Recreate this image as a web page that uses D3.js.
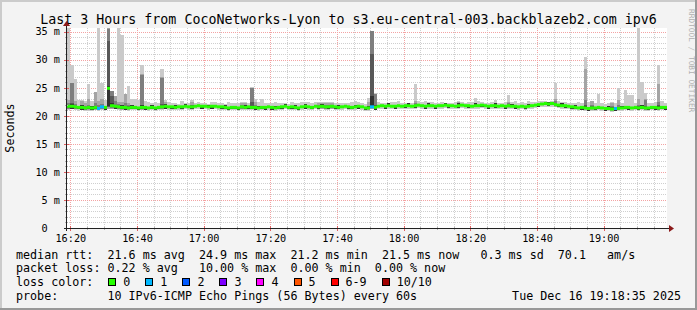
<!DOCTYPE html>
<html><head><meta charset="utf-8">
<script src="https://cdn.jsdelivr.net/npm/d3@7"></script>
<style>
body{margin:0;background:#f3f3f3;}
svg text{font-family:"DejaVu Sans Mono",monospace;white-space:pre;}
</style>
</head><body>
<svg id="c" width="697" height="310"></svg>
<script>
// ---------------- data ----------------
const title = "Last 3 Hours from CocoNetworks-Lyon to s3.eu-central-003.backblazeb2.com ipv6";
const timeStart = "2025-12-16T16:19:00";
const timeEnd = "2025-12-16T19:19:00";
const stepMinutes = 1;
const yMax = 35.65;
const yTicks = [0, 5, 10, 15, 20, 25, 30, 35];
const yTickLabels = ["0", "5 m", "10 m", "15 m", "20 m", "25 m", "30 m", "35 m"];
const xTickLabels = ["16:20", "16:40", "17:00", "17:20", "17:40", "18:00", "18:20", "18:40", "19:00"];
const yAxisTitle = "Seconds";
const watermark = "RRDTOOL / TOBI OETIKER";

// median rtt per minute (ms)
const median = [
21.7,21.7,21.6,21.5,21.5,21.4,21.5,21.4,21.5,21.3,
21.6,21.5,24.9,21.8,21.7,21.6,21.5,21.5,21.4,21.5,
21.5,21.4,21.5,21.5,21.4,21.5,21.4,21.5,21.6,21.7,
21.6,21.6,21.5,21.6,21.6,21.7,21.6,21.6,21.7,21.8,
21.7,21.7,21.6,21.7,21.7,21.6,21.6,21.5,21.4,21.5,
21.5,21.4,21.6,21.5,21.6,21.5,21.5,21.4,21.5,21.5,
21.6,21.5,21.4,21.5,21.6,21.7,21.5,21.6,21.5,21.4,
21.6,21.7,21.6,21.5,21.7,21.6,21.7,21.6,21.6,21.7,
21.6,21.5,21.6,21.7,21.6,21.5,21.6,21.7,21.6,21.4,
21.4,21.6,21.5,21.7,21.8,21.7,21.8,21.7,21.7,21.8,
21.7,21.8,21.8,21.7,21.8,21.9,21.8,21.7,21.8,21.8,
21.7,21.8,21.8,21.9,21.8,21.8,21.7,21.8,21.9,21.8,
21.8,21.7,21.8,21.8,21.9,21.8,21.7,21.8,21.8,21.7,
21.8,21.7,21.8,21.7,21.7,21.6,21.7,21.6,21.7,21.8,
21.9,22.0,22.1,22.2,22.1,22.2,22.0,21.9,21.8,21.8,
21.7,21.6,21.5,21.4,21.5,21.4,21.3,21.4,21.4,21.5,
21.4,21.3,21.3,21.2,21.3,21.3,21.4,21.5,21.5,21.4,
21.5,21.4,21.5,21.4,21.4,21.5,21.5,21.4,21.5,21.5];

// lost pings (of 10) per minute
const loss = [
0,0,0,0,0,0,0,0,0,1, 1,0,0,0,0,0,0,0,0,0,
0,0,0,0,0,0,0,0,0,0, 0,0,0,0,0,0,0,0,0,0,
0,0,0,0,0,0,0,0,0,0, 0,0,0,0,0,0,0,0,0,0,
0,0,0,0,0,0,0,0,0,0, 0,0,0,0,0,0,0,0,0,0,
0,0,0,0,0,0,0,0,0,0, 0,1,0,0,0,0,0,0,0,0,
0,0,0,0,0,0,0,0,0,0, 0,0,0,0,0,0,0,0,0,0,
0,0,0,0,0,0,0,0,0,0, 0,0,0,0,0,0,0,0,0,0,
0,0,0,0,0,0,0,0,0,0, 0,0,0,0,0,0,0,0,0,0,
0,0,0,0,1,0,0,0,0,0, 0,0,0,0,0,0,0,0,0,0];

// lowest ping (ms)
const pingMin = [
21.1,21.2,21.0,20.9,21.0,20.9,20.9,20.9,21.0,20.9,
21.1,21.0,21.2,21.2,21.2,21.1,21.0,21.0,20.9,21.0,
21.0,20.9,21.0,21.0,20.9,21.0,20.9,21.0,21.1,21.2,
21.1,21.1,21.0,21.1,21.1,21.2,21.1,21.1,21.2,21.3,
21.2,21.2,21.1,21.2,21.2,21.1,21.1,21.0,20.9,21.0,
21.0,20.9,21.1,21.0,21.1,21.0,21.0,20.9,21.0,21.0,
21.1,21.0,20.9,21.0,21.1,21.2,21.0,21.1,21.0,20.9,
21.1,21.2,21.1,21.0,21.2,21.1,21.2,21.1,21.1,21.2,
21.1,21.0,21.1,21.2,21.1,21.0,21.1,21.2,21.1,20.9,
20.9,21.2,21.0,21.2,21.3,21.2,21.3,21.2,21.2,21.3,
21.2,21.3,21.3,21.2,21.3,21.4,21.3,21.2,21.3,21.3,
21.2,21.3,21.3,21.4,21.3,21.3,21.2,21.3,21.4,21.3,
21.3,21.2,21.3,21.3,21.4,21.3,21.2,21.3,21.3,21.2,
21.3,21.2,21.3,21.2,21.2,21.1,21.2,21.1,21.2,21.3,
21.4,21.5,21.6,21.6,21.6,21.6,21.5,21.4,21.3,21.3,
21.2,21.1,21.0,20.9,21.0,20.9,20.8,20.9,20.9,21.0,
20.9,20.8,20.9,20.7,20.8,20.8,20.9,21.0,21.0,20.9,
21.0,20.9,21.0,20.9,20.9,21.0,21.0,20.9,21.0,21.0];

// highest ping (ms)
const pingMax = [
36.5,29.1,26.6,22.9,22.9,22.6,25.6,22.6,24.2,36.5,
25.9,22.8,36.5,24.4,23.5,36.5,34.4,23.8,25.3,23.0,
23.0,22.9,29.0,22.6,22.4,22.3,22.5,22.3,28.3,22.9,
22.5,22.2,22.3,22.1,22.6,22.3,22.2,22.9,22.3,22.4,
22.2,22.3,22.1,22.5,22.4,22.2,22.3,22.1,22.4,22.2,
22.2,22.3,22.4,22.5,22.3,25.1,23.0,22.4,23.0,22.3,
22.2,22.3,22.5,22.2,22.2,22.3,22.1,22.4,22.2,22.2,
22.4,22.4,22.5,22.2,22.4,22.5,22.4,22.4,22.4,22.5,
22.2,22.2,22.3,22.2,22.3,22.5,22.6,22.4,22.2,22.1,
23.2,35.1,24.0,22.4,22.3,22.2,22.3,22.4,22.5,22.6,
22.3,22.2,22.3,22.2,25.7,22.6,22.4,22.6,22.5,22.4,
22.3,22.2,22.4,22.3,22.2,22.3,22.5,22.6,22.5,22.3,
22.4,22.5,23.1,22.6,22.4,22.3,22.2,22.4,22.9,22.3,
22.3,22.4,23.7,22.4,22.6,22.3,22.4,22.3,22.7,22.4,
22.4,22.7,22.7,22.6,22.5,22.6,25.9,22.6,22.5,22.4,
22.3,22.2,22.3,22.4,22.2,30.4,22.5,22.6,22.2,23.9,
22.2,22.1,22.2,22.4,22.3,25.0,22.2,24.6,23.7,23.7,
22.3,36.5,26.0,24.0,22.3,22.2,22.4,29.1,22.6,22.3];

// two middle pings (darkest smoke), low and high
const coreLo = [
21.5,21.3,21.4,21.3,21.1,21.2,21.3,21.0,21.3,21.1,
21.4,21.1,21.7,21.6,21.3,21.4,21.3,21.1,21.2,21.3,
21.3,21.0,21.3,21.1,21.2,21.3,21.0,21.3,21.4,21.3,
21.4,21.2,21.3,21.4,21.2,21.5,21.4,21.2,21.5,21.6,
21.3,21.5,21.4,21.3,21.5,21.4,21.2,21.3,21.0,21.3,
21.3,21.0,21.4,21.3,21.2,21.3,21.1,21.2,21.3,21.1,
21.4,21.1,21.2,21.3,21.2,21.5,21.3,21.2,21.3,21.0,
21.4,21.3,21.4,21.3,21.5,21.2,21.5,21.4,21.2,21.5,
21.2,21.3,21.4,21.5,21.2,21.3,21.4,21.3,21.4,21.0,
21.2,21.4,21.1,21.5,21.6,21.3,21.6,21.5,21.3,21.6,
21.5,21.4,21.6,21.5,21.4,21.7,21.6,21.3,21.6,21.6,
21.3,21.6,21.6,21.7,21.4,21.6,21.5,21.4,21.7,21.6,
21.4,21.5,21.6,21.6,21.5,21.6,21.3,21.6,21.4,21.5,
21.6,21.3,21.6,21.5,21.3,21.4,21.5,21.2,21.5,21.6,
21.7,21.6,21.9,22.0,21.7,22.0,21.8,21.5,21.6,21.4,
21.5,21.2,21.3,21.2,21.1,21.2,20.9,21.2,21.0,21.3,
21.2,20.9,21.1,21.0,20.9,21.1,21.2,21.3,21.1,21.2,
21.3,21.0,21.3,21.2,21.0,21.3,21.1,21.2,21.3,21.1];
const coreHi = [
21.8,22.1,21.7,21.6,21.9,21.5,21.6,21.8,21.6,21.4,
21.7,21.6,25.3,22.2,21.8,21.7,21.9,21.6,21.5,21.9,
21.6,21.5,21.9,21.6,21.5,21.9,21.5,21.6,21.7,22.1,
21.7,21.7,21.9,21.7,21.7,22.1,21.7,21.7,21.8,21.9,
21.8,21.8,22.0,21.8,21.8,21.7,21.7,21.9,21.5,21.6,
21.6,21.5,21.7,21.9,21.7,21.6,21.6,21.8,21.6,21.6,
21.7,21.6,21.8,21.6,21.7,22.1,21.6,21.7,21.9,21.5,
21.7,22.1,21.7,21.6,21.8,21.7,22.1,21.7,21.7,21.8,
21.7,21.9,21.7,21.8,21.7,21.6,22.0,21.8,21.7,21.5,
21.8,23.5,21.6,21.8,21.9,21.8,22.2,21.8,21.8,21.9,
21.8,21.9,22.2,21.8,21.9,22.0,21.9,21.8,22.2,21.9,
21.8,21.9,21.9,22.3,21.9,21.9,21.8,22.2,22.0,21.9,
21.9,21.8,22.2,21.9,22.0,21.9,21.8,21.9,22.2,21.8,
21.9,21.8,21.9,22.1,21.8,21.7,21.8,21.7,22.1,21.9,
22.0,22.1,22.2,22.3,22.5,22.3,22.1,22.0,22.2,21.9,
21.8,21.7,21.9,21.5,21.6,21.8,21.4,21.5,21.5,21.6,
21.5,21.4,21.7,21.3,21.4,21.4,21.8,21.6,21.6,21.5,
21.6,21.5,21.9,21.5,21.5,21.6,21.6,21.8,21.6,21.6];

// minutes with wider smoke: [minute index, ping2, ping3, ping4, ping7, ping8, ping9]
const smokeDetail = [
[0,21.2,21.3,21.4,21.9,22.2,22.9],[1,21.3,21.4,21.5,22.3,25.9,25.9],[2,21.2,21.3,21.4,21.8,22.1,22.6],
[4,21.1,21.2,21.3,21.7,21.9,22.6],[5,21.0,21.1,21.2,21.6,21.8,22.2],[6,21.1,21.2,21.3,21.7,22.0,23.0],
[8,21.1,21.2,21.3,21.8,22.2,24.2],[9,21.0,21.1,21.2,21.6,22.0,22.6],[10,21.2,21.3,21.4,21.8,22.1,23.0],
[12,21.3,21.5,21.6,33.3,35.5,36.5],[13,21.3,21.4,21.5,23.6,24.4,24.4],[14,21.3,21.4,21.5,22.0,22.6,23.5],
[15,21.2,21.3,21.4,21.8,22.1,22.5],[16,21.1,21.2,21.3,21.8,22.0,22.4],[17,21.1,21.2,21.3,21.7,22.2,23.8],
[18,21.1,21.2,21.3,21.7,21.9,22.3],[22,21.1,21.2,21.3,22.0,27.3,27.5],[28,21.2,21.3,21.4,22.1,26.7,26.9],
[29,21.3,21.4,21.5,21.9,22.0,22.4],[37,21.3,21.4,21.5,21.9,22.0,22.4],[52,21.2,21.3,21.4,21.8,21.9,22.2],
[53,21.2,21.3,21.4,21.8,22.0,22.3],[55,21.2,21.3,21.4,22.5,24.9,25.0],[56,21.1,21.2,21.3,21.8,22.0,22.4],
[75,21.2,21.3,21.4,21.8,21.9,22.2],[76,21.3,21.4,21.5,21.9,22.0,22.2],[77,21.2,21.3,21.4,21.8,21.9,22.2],
[78,21.2,21.3,21.4,21.8,21.9,22.2],[79,21.3,21.4,21.5,21.9,22.0,22.3],[90,21.1,21.2,21.3,21.6,21.8,22.4],
[91,21.3,21.4,21.4,31.0,35.1,35.1],[92,21.2,21.3,21.4,22.0,23.8,23.9],[104,21.4,21.5,21.6,22.0,22.2,22.6],
[117,21.4,21.5,21.6,22.0,22.3,22.4],[132,21.4,21.5,21.6,22.0,22.2,22.5],[146,21.6,21.7,21.8,22.3,22.6,23.0],
[155,21.1,21.2,21.3,22.0,22.9,28.3],[157,21.1,21.2,21.3,21.7,21.9,22.6],[163,20.9,21.0,21.1,21.6,21.8,22.3],
[165,21.0,21.1,21.2,21.6,21.9,22.8],[171,21.1,21.2,21.3,21.7,22.0,23.0],[173,21.0,21.1,21.2,21.8,22.9,23.0],
[177,21.0,21.1,21.2,21.9,22.5,25.6]];

const lossLabels = ["0", "1", "2", "3", "4", "5", "6-9", "10/10"];
const lossColors = ["#26ff00", "#00b8ff", "#0059ff", "#7e00ff", "#ff00ff", "#ff5500", "#ff0000", "#a10000"];
const smokeColors = ["#cacaca", "#a4a4a4", "#7e7e7e", "#585858", "#323232"];

const legendLines = [
  "median rtt:  21.6 ms avg  24.9 ms max  21.2 ms min  21.5 ms now   0.3 ms sd  70.1   am/s",
  "packet loss: 0.22 % avg   10.00 % max  0.00 % min  0.00 % now"
];
const lossLegendTitle = "loss color:";
const probeLine = "probe:       10 IPv6-ICMP Echo Pings (56 Bytes) every 60s";
const stampText = "Tue Dec 16 19:18:35 2025";

// ---------------- drawing ----------------
const W = 697, H = 310;
const PL = 67, PR = 667, PT = 28, PB = 228;
const svg = d3.select("#c");
svg.append("rect").attr("width", W).attr("height", H).attr("fill", "#f3f3f3");
// 3D frame
svg.append("rect").attr("x", 0).attr("y", 0).attr("width", W).attr("height", 2).attr("fill", "#cbcbcb");
svg.append("rect").attr("x", 0).attr("y", 0).attr("width", 2).attr("height", H).attr("fill", "#cbcbcb");
svg.append("rect").attr("x", 0).attr("y", H - 2).attr("width", W).attr("height", 2).attr("fill", "#999999");
svg.append("rect").attr("x", W - 2).attr("y", 0).attr("width", 2).attr("height", H).attr("fill", "#999999");

const parse = d3.timeParse("%Y-%m-%dT%H:%M:%S");
const t0 = parse(timeStart), t1 = parse(timeEnd);
const x = d3.scaleTime().domain([t0, t1]).range([PL, PR]);
const y = d3.scaleLinear().domain([0, yMax]).range([PB, PT]);
const yc = y.copy().clamp(true);
const tOf = i => d3.timeMinute.offset(t0, i * stepMinutes);
const dayStr = timeStart.slice(0, 10);
const tickTimes = xTickLabels.map(s => parse(dayStr + "T" + s + ":00"));

// canvas
svg.append("rect").attr("x", PL).attr("y", PT).attr("width", PR - PL).attr("height", PB - PT).attr("fill", "#ffffff");

// grid
const g = svg.append("g");
const minorT = d3.timeMinute.every(5).range(t0, t1).filter(t => t > t0);
minorT.forEach(t => {
  const xx = Math.round(x(t)) + 0.5;
  const isMajor = tickTimes.some(m => +m === +t);
  g.append("line").attr("x1", xx).attr("x2", xx).attr("y1", PT).attr("y2", PB)
    .attr("stroke", isMajor ? "#f3a3a3" : "#cfcfcf").attr("stroke-width", 1).attr("stroke-dasharray", "1,1");
});
y.ticks(36).filter(v => v > 0).forEach(v => {
  const yy = Math.round(y(v)) + 0.5;
  const isMajor = yTicks.includes(v);
  g.append("line").attr("x1", PL).attr("x2", PR).attr("y1", yy).attr("y2", yy)
    .attr("stroke", isMajor ? "#f3a3a3" : "#cfcfcf").attr("stroke-width", 1).attr("stroke-dasharray", "1,1");
});

// smoke
const sm = svg.append("g").attr("shape-rendering", "crispEdges");
function bar(i, lo, hi, color) {
  const x0 = Math.round(x(tOf(i))), x1 = Math.round(x(tOf(i + 1)));
  const yt = Math.round(yc(hi)), yb = Math.round(yc(lo));
  if (yb - yt <= 0 || x1 - x0 <= 0) return;
  sm.append("rect").attr("x", x0).attr("y", yt).attr("width", x1 - x0).attr("height", yb - yt).attr("fill", color);
}
median.forEach((m, i) => bar(i, pingMin[i], pingMax[i], smokeColors[0]));
smokeDetail.forEach(d => bar(d[0], d[1], d[6], smokeColors[1]));
smokeDetail.forEach(d => bar(d[0], d[2], d[5], smokeColors[2]));
smokeDetail.forEach(d => bar(d[0], d[3], d[4], smokeColors[3]));
median.forEach((m, i) => bar(i, coreLo[i], coreHi[i], smokeColors[4]));

// median band coloured by loss
function lossIdx(l) { if (l <= 5) return l; if (l < 10) return 6; return 7; }
const mg = svg.append("g");
median.forEach((m, i) => {
  const x0 = Math.round(x(tOf(i))), x1 = Math.round(x(tOf(i + 1)));
  mg.append("rect").attr("x", x0).attr("y", yc(m) - 1.5).attr("width", x1 - x0).attr("height", 3)
    .attr("fill", lossColors[lossIdx(loss[i])]);
});

// axes
const ax = svg.append("g");
const axisColor = "#222222", arrowColor = "#8b1a1a";
minorT.forEach(t => {
  const xx = Math.round(x(t)) + 0.5;
  const isMajor = tickTimes.some(m => +m === +t);
  ax.append("line").attr("x1", xx).attr("x2", xx).attr("y1", PB - (isMajor ? 2 : 1)).attr("y2", PB + (isMajor ? 3 : 2))
    .attr("stroke", isMajor ? "#e06060" : "#b0b0b0");
});
y.ticks(36).forEach(v => {
  const yy = Math.round(y(v)) + 0.5;
  const isMajor = yTicks.includes(v);
  ax.append("line").attr("x1", PL - (isMajor ? 3 : 2)).attr("x2", PL + (isMajor ? 2 : 1)).attr("y1", yy).attr("y2", yy)
    .attr("stroke", isMajor ? "#e06060" : "#b0b0b0");
});
ax.append("line").attr("x1", PL - 3).attr("x2", PR + 3).attr("y1", PB + 0.5).attr("y2", PB + 0.5).attr("stroke", axisColor);
ax.append("line").attr("x1", PL - 0.5).attr("x2", PL - 0.5).attr("y1", PB + 3).attr("y2", PT - 4).attr("stroke", axisColor);
ax.append("path").attr("d", `M${PR + 2},${PB - 3} L${PR + 7},${PB + 0.5} L${PR + 2},${PB + 4} Z`).attr("fill", arrowColor);
ax.append("path").attr("d", `M${PL - 4},${PT - 2} L${PL - 0.5},${PT - 7} L${PL + 3},${PT - 2} Z`).attr("fill", arrowColor);

const axisFont = 10.2;
yTicks.forEach((v, i) => {
  const lab = yTickLabels[i];
  ax.append("text").attr("x", lab === "0" ? 47.7 : 60).attr("y", y(v) + 3.8)
    .attr("text-anchor", "end").attr("font-size", axisFont).attr("fill", "#000").text(lab);
});
tickTimes.forEach((t, i) => {
  ax.append("text").attr("x", x(t) + 0.5).attr("y", 241.7).attr("text-anchor", "middle")
    .attr("font-size", axisFont).attr("fill", "#000").text(xTickLabels[i]);
});

svg.append("text").attr("x", 348.5).attr("y", 24).attr("text-anchor", "middle").attr("font-size", 13.3)
  .attr("fill", "#000").text(title);
svg.append("text").attr("transform", "translate(14,128) rotate(-90)").attr("text-anchor", "middle")
  .attr("font-size", 11.7).attr("fill", "#000").text(yAxisTitle);
svg.append("text").attr("transform", "translate(689,9) rotate(90)").attr("text-anchor", "start")
  .attr("font-size", 7.8).attr("fill", "#b0b0b0").text(watermark);

// legend
const LF = 11.7, CW = LF * 0.602;
const lg = svg.append("g").attr("font-size", LF).attr("fill", "#000");
const baselines = [258.5, 272.4, 286.3, 300.2];
legendLines.forEach((s, i) => {
  lg.append("text").attr("x", 16).attr("y", baselines[i]).attr("xml:space", "preserve").text(s);
});
lg.append("text").attr("x", 16).attr("y", baselines[2]).text(lossLegendTitle);
let bx = 108.3;
lossLabels.forEach((lab, i) => {
  lg.append("rect").attr("x", Math.round(bx) + 0.5).attr("y", 278.5).attr("width", 7).attr("height", 7)
    .attr("fill", lossColors[i]).attr("stroke", "#000").attr("stroke-width", 1);
  lg.append("text").attr("x", bx + 15).attr("y", baselines[2]).text(lab);
  bx += 15 + lab.length * CW + 15;
});
lg.append("text").attr("x", 16).attr("y", baselines[3]).attr("xml:space", "preserve").text(probeLine);
lg.append("text").attr("x", 681).attr("y", baselines[3]).attr("text-anchor", "end").text(stampText);
</script>
</body></html>
